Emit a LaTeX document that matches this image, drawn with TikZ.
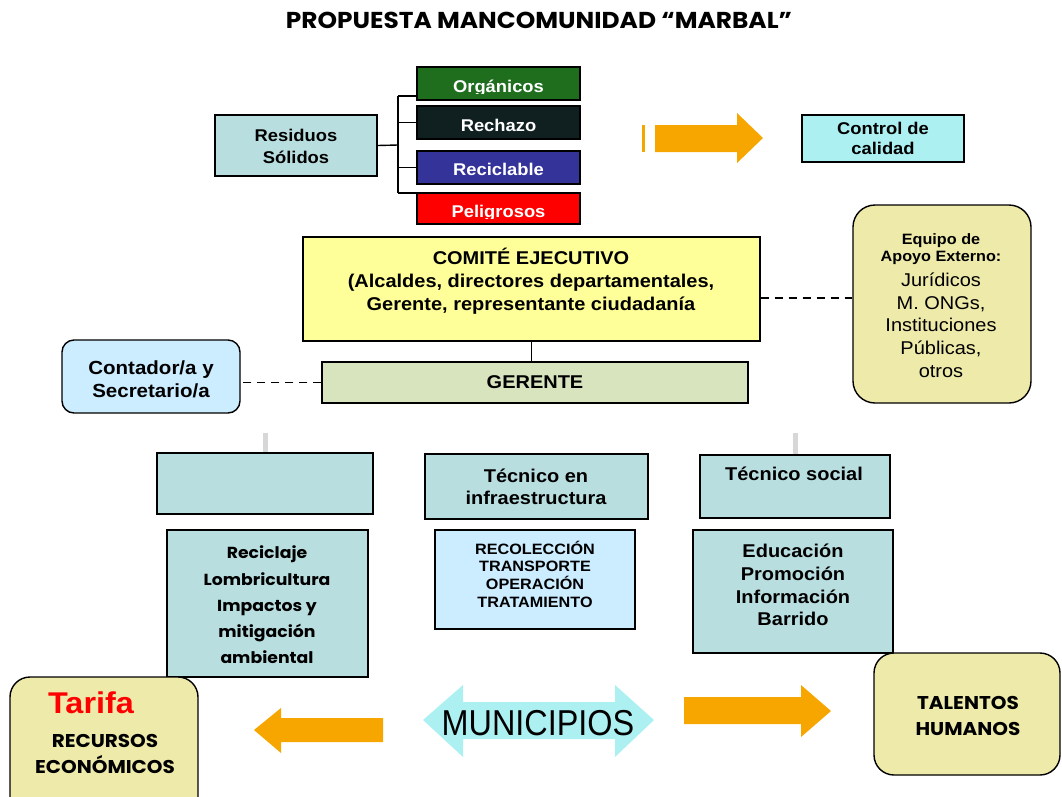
\documentclass[tikz,border=0pt]{standalone}
\usepackage{fontspec}
\setmainfont[FakeStretch=1.08]{Liberation Sans}
\newfontfamily\comicfont[FakeStretch=1.08]{Poppins}
\newfontfamily\narrowfont[FakeStretch=0.9]{Liberation Sans}
\usetikzlibrary{fit}

\definecolor{tealfill}{RGB}{185,222,224}
\definecolor{paleblue}{RGB}{204,236,255}
\definecolor{palecyan}{RGB}{172,240,242}
\definecolor{paleyellow}{RGB}{255,255,153}
\definecolor{khaki}{RGB}{238,234,170}
\definecolor{olivefill}{RGB}{215,228,189}
\definecolor{arroworange}{RGB}{247,166,0}
\definecolor{orggreen}{RGB}{30,110,30}
\definecolor{rechdark}{RGB}{16,32,32}
\definecolor{recblue}{RGB}{51,51,153}
\definecolor{pelred}{RGB}{255,0,0}
\definecolor{stubgray}{RGB}{215,215,215}

\tikzset{
	blk/.style={draw=black, line width=1.4pt, inner sep=0pt},
	roundblk/.style={blk, rounded corners=#1},
	txt/.style={align=center, inner sep=0pt, font=\fontsize{18.5}{23}\selectfont\bfseries},
	cat/.style={txt, text=white, font=\fontsize{17}{20}\selectfont\bfseries},
	comic/.style={align=center, inner sep=0pt, font=\comicfont\fontsize{16}{26.3}\selectfont\bfseries},
	conn/.style={draw=black, line width=1.4pt},
	dashconn/.style={conn, dash pattern=on 8pt off 6pt},
	stub/.style={draw=stubgray, line width=5pt},
}

\begin{document}
\begin{tikzpicture}[x=1pt, y=-1pt]
		\useasboundingbox (0,0) rectangle (1062,796);
		%%%%% TITLE %%%%%
		\node[comic, font=\comicfont\fontsize{23}{26}\selectfont\bfseries] (title) at (539,20) {PROPUESTA MANCOMUNIDAD “MARBAL”};
		
		%%%%% RESIDUOS %%%%%
		\node[blk, fill=tealfill, fit={(215,115) (377,176)}] (res) {};
		\node[txt, font=\fontsize{17}{22}\selectfont\bfseries] (restxt) at (296,146) {Residuos\\Sólidos};
		
		\node[blk, fill=orggreen, fit={(417,67) (580,100)}] (org) {};
		\node[blk, fill=rechdark, fit={(417,106) (580,139)}] (rech) {};
		\node[blk, fill=recblue, fit={(417,151) (580,184)}] (recic) {};
		\node[blk, fill=pelred, fit={(417,193) (580,224)}] (pel) {};
		\begin{scope}
			\clip (417,67) rectangle (580,93);
			\node[cat, anchor=base] (orgtxt) at (498.5,92) {Orgánicos};
		\end{scope}
		\node[cat] (rechtxt) at (498.5,125) {Rechazo};
		\node[cat] (recictxt) at (498.5,169) {Reciclable};
		\begin{scope}
			\clip (417,193) rectangle (580,218);
			\node[cat, anchor=base] (peltxt) at (498.5,217) {Peligrosos};
		\end{scope}
		
		\coordinate (fork) at (398,145);
		\coordinate (trunktop) at (398,96);
		\coordinate (trunkbot) at (398,193);
		\draw[conn] (res.east) -- (fork);
		\draw[conn] (trunktop) -- (trunkbot);
		\draw[conn] (trunktop) -- (trunktop -| org.west);
		\draw[conn] (fork |- rech.west) -- (rech.west);
		\draw[conn] (fork |- recic.west) -- (recic.west);
		\draw[conn] (trunkbot) -- (trunkbot -| pel.west);
		
		%%%%% CONTROL %%%%%
		\fill[arroworange] (642,125) rectangle (645,152);
		\fill[arroworange] (655,125) -- (737,125) -- (737,113) -- (763,138) -- (737,163) -- (737,152) -- (655,152) -- cycle;
		\node[blk, fill=palecyan, fit={(802,115) (964,162)}] (ctrl) {};
		\node[txt, font=\fontsize{17}{20}\selectfont\bfseries] (ctrltxt) at (883,138) {Control de\\calidad};
		
		%%%%% COMITE / GERENTE %%%%%
		\node[blk, fill=paleyellow, fit={(303,237) (760,341)}] (com) {};
		\node[txt] (comtxt) at (531,281) {COMITÉ EJECUTIVO\\(Alcaldes, directores departamentales,\\Gerente, representante ciudadanía};
		
		\node[roundblk=22pt, fill=khaki, fit={(853,205) (1031,403)}] (eq) {};
		\node[txt, font=\fontsize{15}{17}\selectfont\bfseries] (eqhead) at (941,249) {Equipo de\\Apoyo Externo:};
		\node[txt, font=\fontsize{18.5}{22.7}\selectfont] (eqbody) at (941,325) {Jurídicos\\M. ONGs,\\Instituciones\\Públicas,\\otros};
		\draw[dashconn] ([yshift=-9pt]com.east) -- ([yshift=-9pt]com.east -| eq.west);
		
		\node[blk, fill=olivefill, fit={(322,362) (748,403)}] (ger) {};
		\node[txt] (gertxt) at (535,382) {GERENTE};
		\draw[conn] (com.south) -- (com.south |- ger.north);
		
		\node[roundblk=12pt, fill=paleblue, fit={(62,340) (240,413)}] (cont) {};
		\node[txt, font=\fontsize{19}{23}\selectfont\bfseries] (conttxt) at (151,379) {Contador/a y\\Secretario/a};
		\draw[dashconn] (ger.west) -- (ger.west -| cont.east);
		
		%%%%% TECNICOS %%%%%
		\node[blk, fill=tealfill, fit={(157,453) (373,514)}] (tecl) {};
		\node[blk, fill=tealfill, fit={(425,454) (648,519)}] (teci) {};
		\node[blk, fill=tealfill, fit={(700,455) (890,518)}] (tecs) {};
		\node[txt, font=\fontsize{18.5}{22}\selectfont\bfseries] (tecitxt) at (536,487) {Técnico en\\infraestructura};
		\node[txt] (tecstxt) at (794,474) {Técnico social};
		\draw[stub] (tecl.north) -- ++(0,-19);
		\draw[stub] (tecs.north) -- ++(0,-21);
		
		\node[blk, fill=tealfill, fit={(167,530) (368,677)}] (recl) {};
		\node[comic] (recltxt) at (267,605) {Reciclaje\\Lombricultura\\Impactos y\\mitigación\\ambiental};
		\node[blk, fill=paleblue, fit={(435,530) (635,629)}] (recol) {};
		\node[txt, font=\fontsize{15}{17.7}\selectfont\bfseries] (recoltxt) at (535,574) {RECOLECCIÓN\\TRANSPORTE\\OPERACIÓN\\TRATAMIENTO};
		\node[blk, fill=tealfill, fit={(693,530) (893,653)}] (edu) {};
		\node[txt, font=\fontsize{18.5}{22.7}\selectfont\bfseries] (edutxt) at (793,585) {Educación\\Promoción\\Información\\Barrido};
		
		%%%%% MUNICIPIOS %%%%%
		\node[roundblk=20pt, fill=khaki, fit={(10,677) (198,830)}] (tar) {};
		\node[txt, text=pelred, font=\fontsize{30}{34}\selectfont\bfseries] (tartxt) at (91,703) {Tarifa};
		\node[comic, font=\comicfont\fontsize{18.5}{26}\selectfont\bfseries] (rectxt) at (105,754) {RECURSOS\\ECONÓMICOS};
		
		\node[roundblk=20pt, fill=khaki, fit={(874,653) (1060,775)}] (tal) {};
		\node[comic, font=\comicfont\fontsize{18.5}{26}\selectfont\bfseries] (taltxt) at (968,716) {TALENTOS\\HUMANOS};
		
		\fill[arroworange] (254,730) -- (281,708) -- (281,718) -- (383,718) -- (383,742) -- (281,742) -- (281,753) -- cycle;
		\fill[arroworange] (684,697) -- (801,697) -- (801,685) -- (831,711) -- (801,737) -- (801,724) -- (684,724) -- cycle;
		\fill[palecyan] (423,720) -- (463,685) -- (463,702) -- (615,702) -- (615,685) -- (654,720) -- (615,757) -- (615,739) -- (463,739) -- (463,757) -- cycle;
		\node[inner sep=0pt, font=\narrowfont\fontsize{36}{40}\selectfont] (mun) at (538,723) {MUNICIPIOS};
		%%%%% END %%%%%
\end{tikzpicture}
\end{document}
